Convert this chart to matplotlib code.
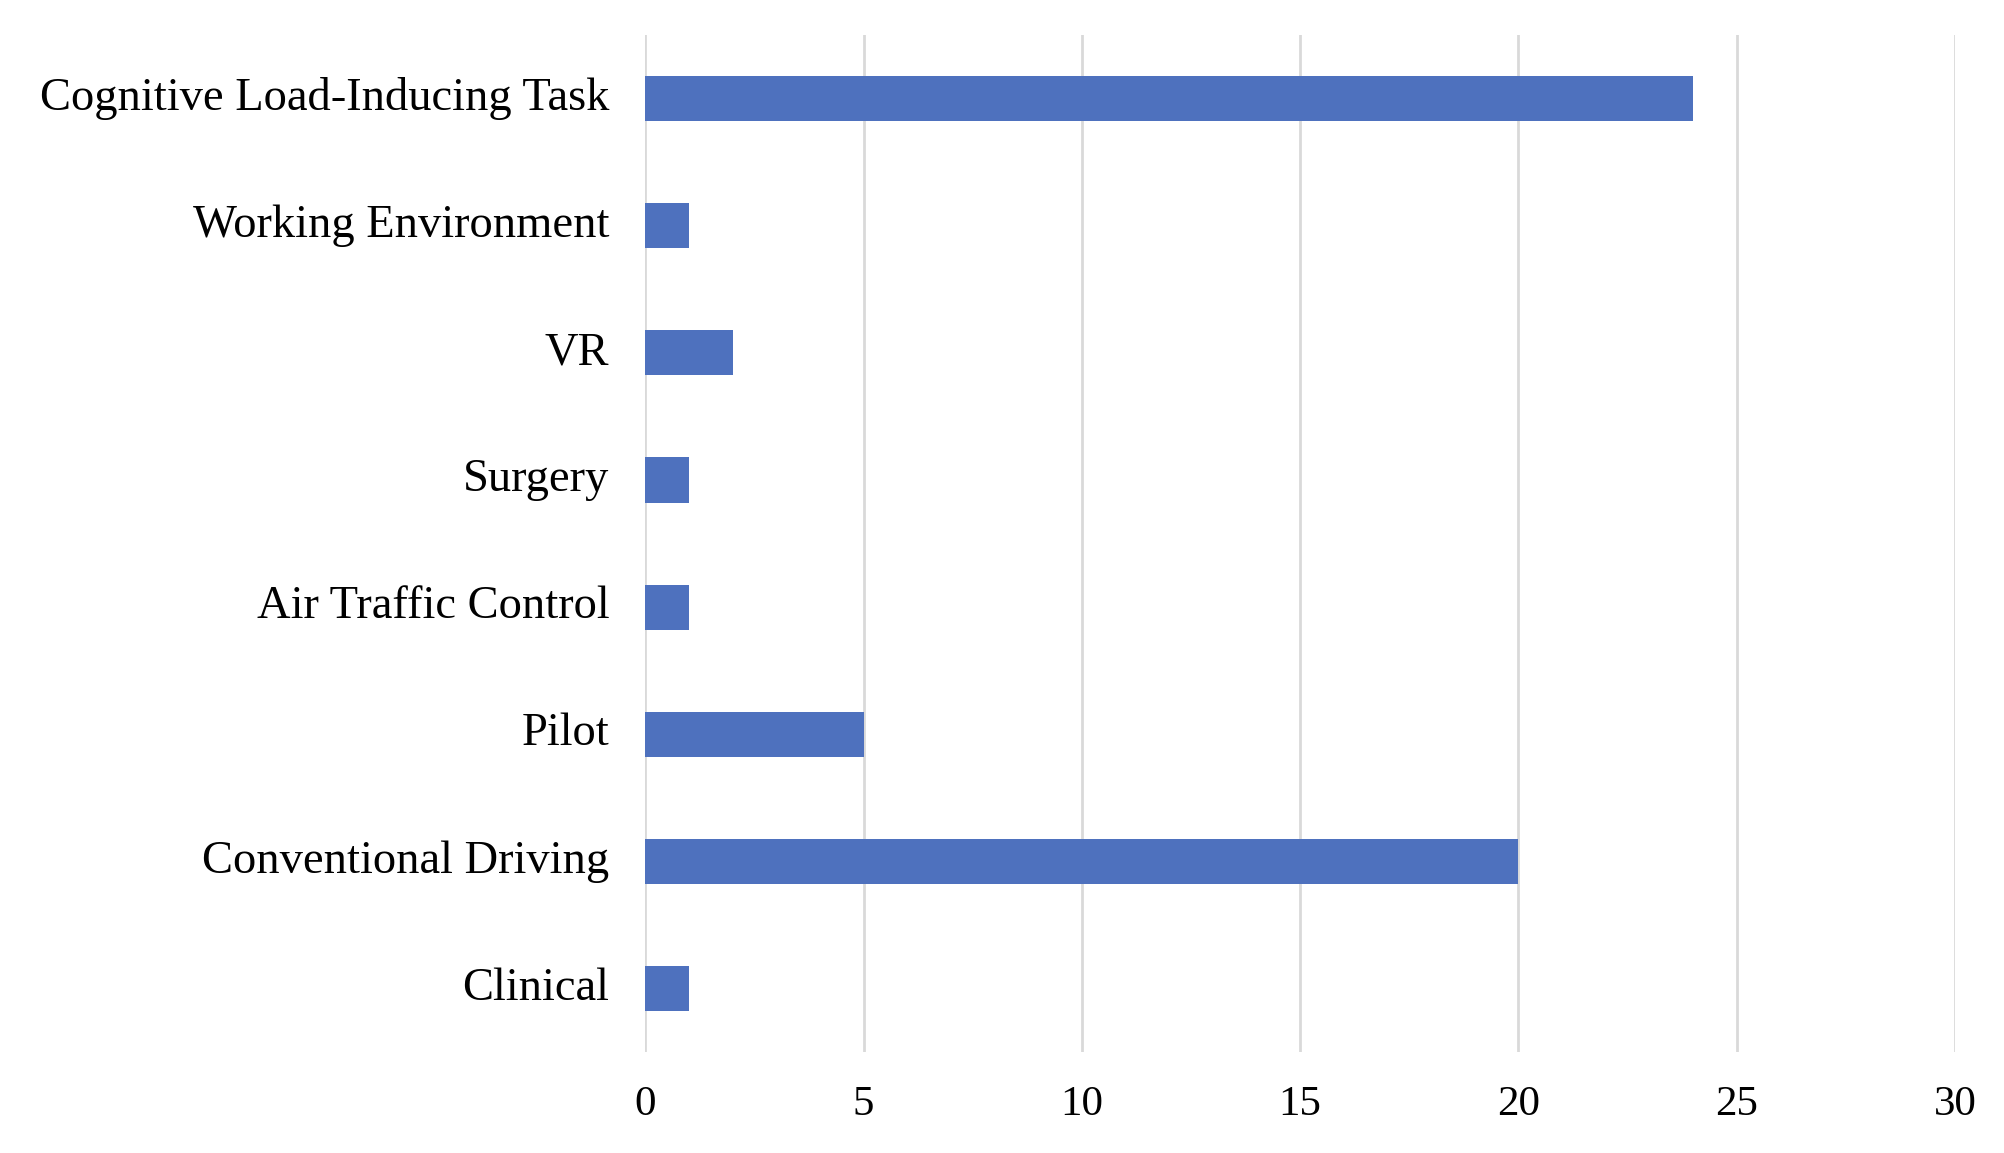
import matplotlib.pyplot as plt

categories = ["Cognitive Load-Inducing Task", "Working Environment", "VR", "Surgery",
              "Air Traffic Control", "Pilot", "Conventional Driving", "Clinical"]
counts = [24, 1, 2, 1, 1, 5, 20, 1]
x_ticks = [0, 5, 10, 15, 20, 25, 30]

plt.rcParams['font.family'] = ['Liberation Serif', 'DejaVu Serif']

fig = plt.figure(figsize=(20.04, 11.53), dpi=100)
ax = fig.add_axes([0.322, 0.0876, 0.6535, 0.882])

pos = list(range(len(categories)))
ax.barh(pos, counts, height=0.355, color='#4E71BE', zorder=3)

ax.set_ylim(len(categories) - 0.5, -0.5)
ax.set_xlim(0, 30)
ax.set_yticks(pos)
ax.set_yticklabels(categories, fontsize=33.5)
ax.set_xticks(x_ticks)
ax.set_xticklabels([str(t) for t in x_ticks], fontsize=31)
ax.tick_params(axis='y', length=0, pad=26)
ax.tick_params(axis='x', length=0, pad=24)
for lbl in ax.get_yticklabels():
    lbl.set_va('center')

for t in x_ticks:
    ax.axvline(t, color='#d9d9d9', linewidth=2, zorder=1)

for s in ax.spines.values():
    s.set_visible(False)

fig.savefig("out.png", dpi=100, facecolor='white')
